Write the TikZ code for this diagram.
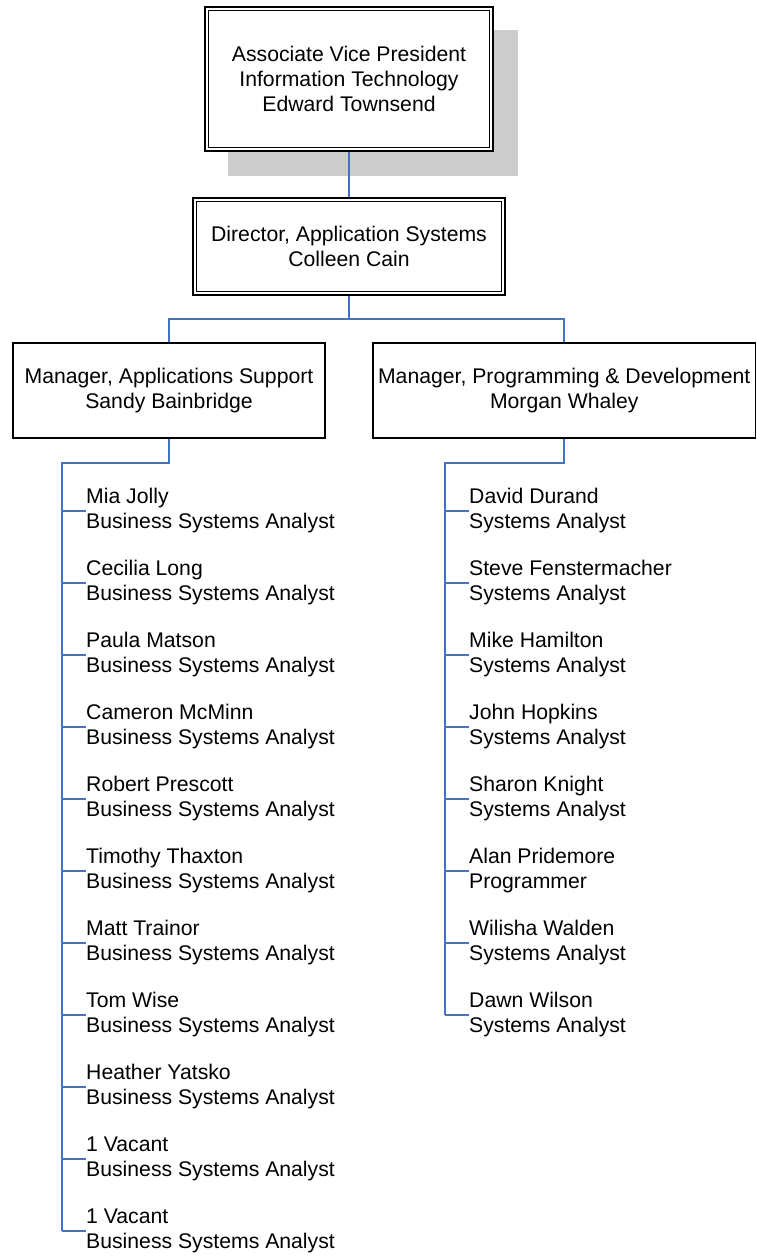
\documentclass[tikz,border=0pt]{standalone}
\usepackage{fontspec}
\setmainfont{Liberation Sans}
\definecolor{lineblue}{RGB}{68,114,196}
\definecolor{shadowgray}{RGB}{204,204,204}
\begin{document}
\begin{tikzpicture}[x=1pt,y=-1pt,
  conn/.style={draw=lineblue, line width=1.6pt},
  txt/.style={font=\fontsize{21.2}{25}\selectfont},
  box/.style={txt, draw=black, line width=1.4pt, fill=white, align=center, inner sep=0pt},
  dbox/.style={box, line width=2.6pt},
  inner/.style={draw=black, line width=1.2pt},
  emp/.style={txt, anchor=west, align=left, inner sep=0pt},
]
\useasboundingbox (0,0) rectangle (757,1256);

% shadow of top box
\fill[shadowgray] (228,30) rectangle (518,176);

% top box
\node[dbox, minimum width=288, minimum height=144] (avp) at (349,79)
  {Associate Vice President\\Information Technology\\Edward Townsend};
\draw[inner] ([shift={(5,5)}]avp.north west) rectangle ([shift={(-5,-5)}]avp.south east);

% director
\node[dbox, minimum width=312, minimum height=97] (dir) at (349,246.5)
  {Director, Application Systems\\Colleen Cain};
\draw[inner] ([shift={(4.5,4.5)}]dir.north west) rectangle ([shift={(-4.5,-4.5)}]dir.south east);

% managers
\node[box, minimum width=312, minimum height=95] (mgrL) at (169,390.5)
  {Manager, Applications Support\\Sandy Bainbridge};
\node[box, minimum width=382.5, minimum height=95] (mgrR) at (564.25,390.5)
  {Manager, Programming \& Development\\Morgan Whaley};

% top connectors
\coordinate (bus) at (349,319);
\draw[conn] (avp.south) -- (dir.north);
\draw[conn] (dir.south) -- (bus);
\draw[conn] (mgrL.north) |- (bus) -| (mgrR.north);

% left staff
\foreach \nm [count=\i] in {Mia Jolly, Cecilia Long, Paula Matson, Cameron McMinn, Robert Prescott, Timothy Thaxton, Matt Trainor, Tom Wise, Heather Yatsko, 1 Vacant, 1 Vacant}
  \node[emp] (L\i) at (86,{511+72*(\i-1)}) {\nm\\Business Systems Analyst};

% right staff
\foreach \nm/\ti [count=\i] in {David Durand/Systems Analyst, Steve Fenstermacher/Systems Analyst, Mike Hamilton/Systems Analyst, John Hopkins/Systems Analyst, Sharon Knight/Systems Analyst, Alan Pridemore/Programmer, Wilisha Walden/Systems Analyst, Dawn Wilson/Systems Analyst}
  \node[emp] (R\i) at (469,{511+72*(\i-1)}) {\nm\\\ti};

% left spine
\coordinate (Ltop) at (62,463);
\draw[conn] (mgrL.south) |- (Ltop) -- (Ltop |- L11.west);
\foreach \i in {1,...,11}
  \draw[conn] (Ltop |- L\i.west) -- (L\i.west);

% right spine
\coordinate (Rtop) at (445,463);
\draw[conn] (mgrR.south) |- (Rtop) -- (Rtop |- R8.west);
\foreach \i in {1,...,8}
  \draw[conn] (Rtop |- R\i.west) -- (R\i.west);
\end{tikzpicture}
\end{document}
